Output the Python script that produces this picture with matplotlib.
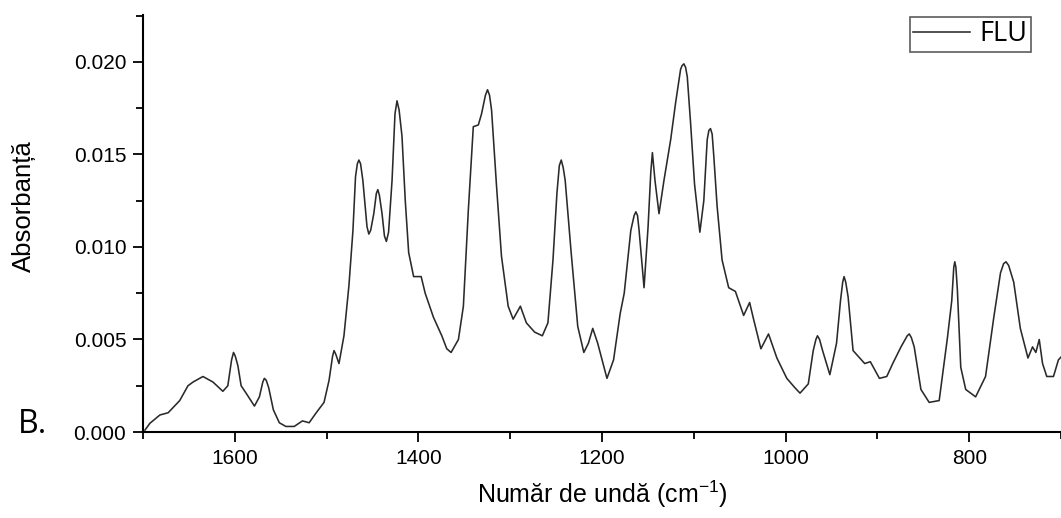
import matplotlib
matplotlib.use('Agg')
import matplotlib.pyplot as plt
import numpy as np
from matplotlib.ticker import MultipleLocator, FormatStrFormatter

# FTIR spectrum (wavenumber cm-1, absorbance)
wavenumber = [1697.9, 1692.5, 1681.6, 1672.6, 1660.0, 1651.0, 1645.5, 1634.7, 1623.8, 1613.0,
              1607.6, 1603.5, 1601.4, 1599.5, 1596.7, 1593.1, 1587.7, 1578.6, 1573.2, 1569.5,
              1567.8, 1565.8, 1563.1, 1558.0,
              1551.5, 1544.4, 1535.3, 1526.3, 1519.0, 1511.9, 1502.8, 1497.3, 1493.5, 1491.9,
              1490.0, 1486.5,
              1481.1, 1475.7, 1471.3, 1468.5, 1466.5, 1464.8, 1463.0, 1460.5, 1456.0, 1454.0,
              1452.0, 1448.6, 1445.8, 1444.2, 1442.5, 1439.6, 1437.0,
              1434.9, 1432.5, 1428.7, 1425.5, 1423.3, 1421.0, 1417.9, 1414.3, 1410.6, 1405.2,
              1397.0, 1392.6, 1383.6,
              1374.5, 1369.1, 1364.4, 1356.4, 1351.0, 1345.6, 1340.2, 1334.7, 1331.2, 1327.0,
              1324.7, 1322.5,
              1320.3, 1314.9, 1309.5, 1302.2, 1296.8, 1288.9, 1282.4, 1273.4, 1265.0, 1258.9,
              1253.4, 1249.1, 1246.5, 1244.4, 1242.3, 1240.1, 1233.6, 1226.4, 1219.8, 1214.8,
              1210.1, 1204.7,
              1194.6, 1187.4, 1180.2, 1175.8, 1168.6, 1165.0, 1163.1, 1161.3, 1159.6, 1154.2,
              1149.8, 1146.9,
              1145.1, 1142.3, 1137.9, 1132.5, 1125.2, 1119.8, 1114.4, 1112.8, 1110.8, 1108.9,
              1107.1, 1103.5,
              1099.2, 1093.4, 1089.1, 1085.4, 1083.6, 1081.8, 1080.0, 1078.2, 1074.6, 1069.2,
              1062.0, 1054.7,
              1045.7, 1039.2, 1034.9, 1026.9, 1018.6, 1009.5, 998.7, 990.0, 984.3, 975.3,
              969.9, 967.0,
              965.3, 963.0, 959.7, 951.8, 944.5, 940.2, 937.8, 936.3, 934.5, 931.9, 926.5,
              921.1, 913.8,
              907.7, 897.8, 889.8, 883.3, 874.3, 867.5, 865.3, 863.0, 859.9, 852.6, 843.6,
              832.7,
              823.7, 819.0, 816.8, 815.7, 814.5, 812.9, 809.2, 803.8, 793.0, 782.2, 773.2,
              765.9, 762.5,
              759.9, 757.0, 751.5, 744.3, 736.0, 731.0, 727.4, 723.7, 720.1, 715.5, 708.2,
              702.8, 699.0]
absorbance = [0.0001, 0.00047, 0.00092, 0.00104, 0.0017, 0.0025, 0.0027, 0.0030, 0.0027, 0.0022,
              0.0025, 0.0039, 0.0043, 0.0041, 0.0036, 0.0025, 0.0021, 0.0014, 0.0019, 0.0027,
              0.0029, 0.0028, 0.0024, 0.0012,
              0.0005, 0.0003, 0.0003, 0.0006, 0.0005, 0.0010, 0.0016, 0.0028, 0.0041, 0.0044,
              0.0042, 0.0037,
              0.0052, 0.0079, 0.0109, 0.0138, 0.0145, 0.0147, 0.0145, 0.0136, 0.0111, 0.0107,
              0.0109, 0.0118, 0.0129, 0.0131, 0.0128, 0.0118, 0.0106,
              0.0103, 0.0108, 0.0136, 0.0172, 0.0179, 0.0174, 0.0160, 0.0125, 0.0097, 0.0084,
              0.0084, 0.0075, 0.0062,
              0.0052, 0.0045, 0.0043, 0.0050, 0.0068, 0.0120, 0.0165, 0.0166, 0.0172, 0.0182,
              0.0185, 0.0182,
              0.0174, 0.0133, 0.0095, 0.0068, 0.0061, 0.0068, 0.0059, 0.0054, 0.0052, 0.0059,
              0.0093, 0.0129, 0.0144, 0.0147, 0.0143, 0.0136, 0.0097, 0.0057, 0.0043, 0.0048,
              0.0056, 0.0048,
              0.0029, 0.0039, 0.0064, 0.0075, 0.0109, 0.0117, 0.0119, 0.0117, 0.0109, 0.0078,
              0.0111, 0.0140,
              0.0151, 0.0136, 0.0118, 0.0136, 0.0158, 0.0178, 0.0196, 0.0198, 0.0199, 0.0197,
              0.0192, 0.0167,
              0.0134, 0.0108, 0.0125, 0.0158, 0.0163, 0.0164, 0.0161, 0.0149, 0.0122, 0.0093,
              0.0078, 0.0076,
              0.0063, 0.0070, 0.0061, 0.0045, 0.0053, 0.0040, 0.0029, 0.0024, 0.0021, 0.0026,
              0.0044, 0.0050,
              0.0052, 0.0050, 0.0044, 0.0031, 0.0048, 0.0071, 0.0081, 0.0084, 0.0081, 0.0073, 0.0044,
              0.0041, 0.0037,
              0.0038, 0.0029, 0.0030, 0.0037, 0.0046, 0.0052, 0.0053, 0.0051, 0.0046, 0.0023, 0.0016,
              0.0017,
              0.0051, 0.0071, 0.0089, 0.0092, 0.0089, 0.0077, 0.0035, 0.0023, 0.0019, 0.0030, 0.0062,
              0.0086, 0.0091,
              0.0092, 0.0090, 0.0081, 0.0056, 0.0040, 0.0046, 0.0043, 0.0050, 0.0037, 0.0030, 0.0030,
              0.0039, 0.0041]

series_name = 'FLU'
x_label = 'Număr de undă (cm$^{-1}$)'
y_label = 'Absorbanță'
panel_label = 'B.'

plt.rcParams['font.family'] = ['Liberation Sans', 'DejaVu Sans']
plt.rcParams['mathtext.fontset'] = 'custom'
plt.rcParams['mathtext.rm'] = 'Liberation Sans'
plt.rcParams['mathtext.it'] = 'Liberation Sans'

fig = plt.figure(figsize=(10.61, 5.18), dpi=100)
ax = fig.add_axes([143 / 1061, 1 - 432 / 518, 1 - 143 / 1061, (432 - 15) / 518])

order = np.argsort(wavenumber)[::-1]
xs = np.array(wavenumber)[order]
ys = np.array(absorbance)[order]
ax.plot(xs, ys, color='#2a2a2a', lw=1.15, label=series_name)

ax.set_xlim(1700, 700)
ax.set_ylim(0, 0.02254)
ax.xaxis.set_major_locator(MultipleLocator(200))
ax.xaxis.set_minor_locator(MultipleLocator(100))
ax.yaxis.set_major_locator(MultipleLocator(0.005))
ax.yaxis.set_minor_locator(MultipleLocator(0.0025))
ax.yaxis.set_major_formatter(FormatStrFormatter('%.3f'))

for s in ['top', 'right']:
    ax.spines[s].set_visible(False)
for s in ['left', 'bottom']:
    ax.spines[s].set_linewidth(1.5)

ax.tick_params(which='major', direction='out', length=7, width=1.3, labelsize=15, pad=5)
ax.tick_params(which='minor', direction='out', length=5, width=1.3)

ax.set_xlabel(x_label, fontsize=18, labelpad=8)
ax.set_ylabel(y_label, fontsize=18.5)
ax.yaxis.set_label_coords((36 - 143) / 918, 0.542)

fig.text(18 / 1061, 1 - 433 / 518, panel_label, fontsize=23, family='Open Sans',
         ha='left', va='baseline')

leg = ax.legend(loc='upper right', bbox_to_anchor=(1031 / 1061, 1 - 17 / 518),
                bbox_transform=fig.transFigure, fancybox=False, frameon=True,
                prop={'family': 'Open Sans', 'size': 19.5}, handlelength=2.1,
                handletextpad=0.35, borderpad=0.12, borderaxespad=0)
leg.get_frame().set_edgecolor('#333333')
leg.get_frame().set_linewidth(1.2)

fig.savefig('out.png', dpi=100)
